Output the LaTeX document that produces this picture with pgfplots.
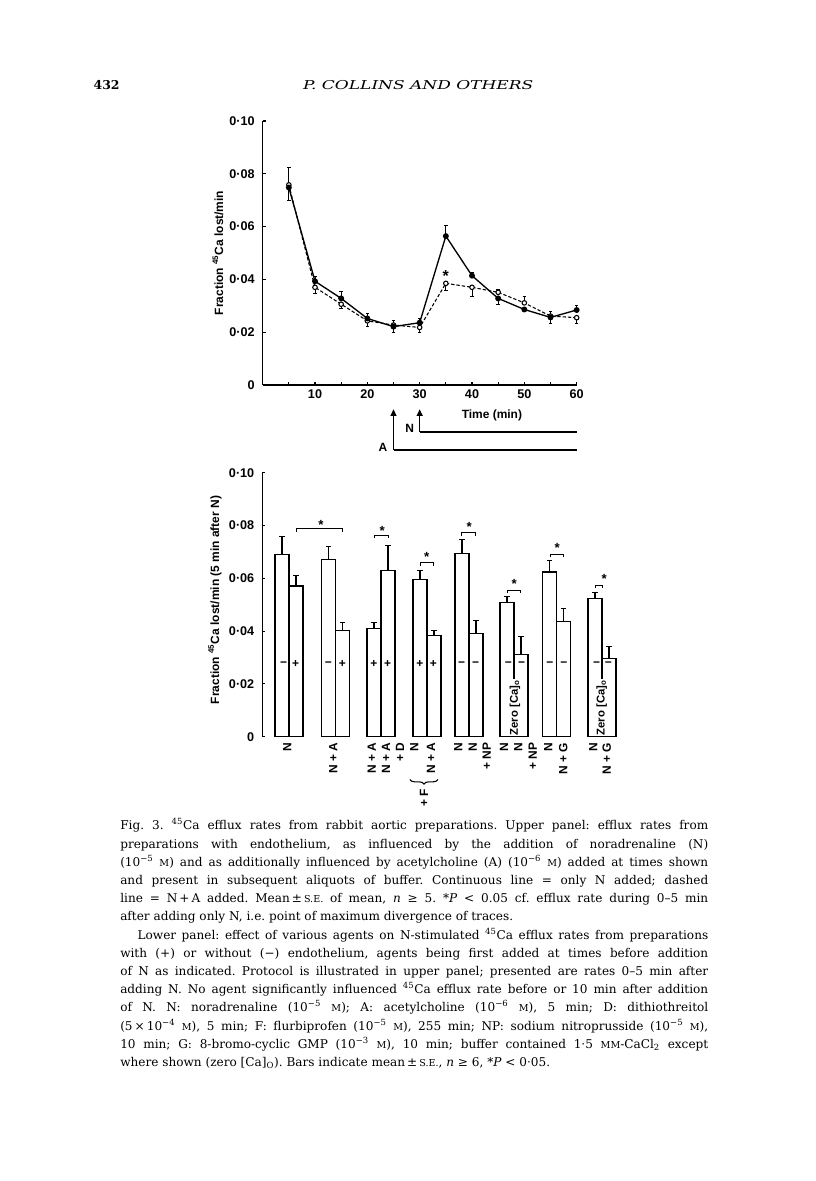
\documentclass[border=0pt]{standalone}
\usepackage{fontspec}
\setmainfont{DejaVu Serif}
\setsansfont{Liberation Sans}
\usepackage{pgfplots}
\pgfplotsset{compat=1.18}
\usetikzlibrary{arrows.meta,decorations.pathreplacing}
\newcommand{\fig}{\sffamily\bfseries\fontsize{9}{11}\selectfont}
\newcommand{\tck}{\sffamily\bfseries\fontsize{9.5}{11}\selectfont}
\newcommand{\smc}[1]{{\fontsize{7.2}{8}\selectfont #1}}
\tikzset{
  minus/.style={font=\fig, inner sep=0pt},
  star/.style={font=\sffamily\bfseries\fontsize{10}{11}\selectfont, inner sep=0pt},
  cat/.style={font=\fig, rotate=90, anchor=east, inner sep=0pt},
  sig/.style={line width=0.75bp},
  zero/.style={font=\sffamily\bfseries\fontsize{8.5}{9}\selectfont, rotate=90, fill=white, inner sep=0.6bp},
}

\begin{document}
\begin{tikzpicture}
\useasboundingbox[fill=white] (0bp,0bp) rectangle (612bp,885.75bp);

% ---- running head ----
\node[anchor=base west, inner sep=0pt] at (70bp,818.8bp) {\resizebox{19.5bp}{6.8bp}{\bfseries 432}};
\node[anchor=base west, inner sep=0pt] at (227.2bp,818.8bp) {\resizebox{172.5bp}{6.8bp}{\itshape P. COLLINS AND OTHERS}};

% ---- upper panel: efflux vs time ----
\begin{axis}[
  at={(197bp,597bp)}, anchor=origin,
  x=3.925bp, y=1980bp,
  xmin=0, xmax=60, ymin=0, ymax=0.1,
  axis lines*=left,
  axis line style={line width=1bp},
  tick align=inside, major tick length=2.2bp,
  tick style={line width=0.8bp, black},
  xtick={5,10,...,60},
  xticklabels={,10,,20,,30,,40,,50,,60},
  ytick={0,0.02,0.04,0.06,0.08,0.1},
  yticklabels={0,0·02,0·04,0·06,0·08,0·10},
  scaled y ticks=false,
  tick label style={font=\tck},
  yticklabel style={xshift=-2.5bp},
  clip=false,
]
% N + A (open circles, dashed)
\addplot[black, line width=0.8bp, dash pattern=on 2.5bp off 1.5bp,
  mark=*, mark size=1.7bp, mark options={solid, fill=white},
  error bars/.cd, y dir=both, y explicit,
  error bar style={solid, line width=0.7bp},
  error mark options={solid, rotate=90, mark size=1.3bp, line width=0.7bp}]
coordinates {
  (5,0.0758)  += (0,0)      -= (0,0.0058)
  (10,0.0370) += (0,0)      -= (0,0.0023)
  (15,0.0306) += (0,0)      -= (0,0.0018)
  (20,0.0243) += (0,0)      -= (0,0.0020)
  (25,0.0227) += (0,0.0016) -= (0,0)
  (30,0.0218) += (0,0)      -= (0,0.0020)
  (35,0.0385) += (0,0)      -= (0,0.0026)
  (40,0.0370) += (0,0)      -= (0,0.0036)
  (45,0.0351) += (0,0.0011) -= (0,0)
  (50,0.0311) += (0,0.0023) -= (0,0)
  (55,0.0261) += (0,0.0019) -= (0,0)
  (60,0.0255) += (0,0)      -= (0,0.0022)
};
% N only (filled circles, continuous)
\addplot[black, line width=1bp,
  mark=*, mark size=1.7bp,
  error bars/.cd, y dir=both, y explicit,
  error bar style={line width=0.7bp},
  error mark options={rotate=90, mark size=1.3bp, line width=0.7bp}]
coordinates {
  (5,0.0748)  += (0,0.0077) -= (0,0)
  (10,0.0393) += (0,0.0017) -= (0,0)
  (15,0.0328) += (0,0.0028) -= (0,0)
  (20,0.0252) += (0,0.0019) -= (0,0)
  (25,0.0221) += (0,0)      -= (0,0.0023)
  (30,0.0236) += (0,0.0016) -= (0,0)
  (35,0.0564) += (0,0.0039) -= (0,0)
  (40,0.0414) += (0,0.0012) -= (0,0)
  (45,0.0328) += (0,0)      -= (0,0.0022)
  (50,0.0286) += (0,0.0006) -= (0,0.0006)
  (55,0.0256) += (0,0)      -= (0,0.0023)
  (60,0.0284) += (0,0.0019) -= (0,0)
};
\node[font=\sffamily\bfseries\fontsize{12}{12}\selectfont, inner sep=0pt] at (axis cs:35,0.0413) {*};
% protocol
\draw[line width=0.9bp, -{Triangle[length=5bp,width=4.5bp]}] (axis cs:25,-0.0246) -- (axis cs:25,-0.0092);
\draw[line width=0.9bp] (axis cs:25,-0.0246) -- (axis cs:60,-0.0246);
\draw[line width=0.9bp, -{Triangle[length=5bp,width=4.5bp]}] (axis cs:30,-0.0178) -- (axis cs:30,-0.0092);
\draw[line width=0.9bp] (axis cs:30,-0.0178) -- (axis cs:60,-0.0178);
\node[font=\fig] at (axis cs:28.1,-0.0165) {N};
\node[font=\fig] at (axis cs:23,-0.0238) {A};
\node[font=\fig] at (axis cs:43.8,-0.0114) {Time (min)};
\node[font=\fig, rotate=90] at (axis cs:-8.54,0.05) {Fraction \textsuperscript{45}Ca lost/min};
\end{axis}

% ---- lower panel: bars ----
\begin{axis}[
  at={(196.7bp,333.2bp)}, anchor=origin,
  x=0.75bp, y=1980bp,
  xmin=0, xmax=360, ymin=0, ymax=0.1,
  hide x axis,
  axis y line*=left,
  axis line style={line width=1bp},
  tick align=inside, major tick length=2.2bp,
  tick style={line width=0.8bp, black},
  ytick={0,0.02,0.04,0.06,0.08,0.1},
  yticklabels={0,0·02,0·04,0·06,0·08,0·10},
  scaled y ticks=false,
  tick label style={font=\tck},
  yticklabel style={xshift=-2.5bp},
  clip=false,
]
% first bar of each pair
\addplot[ybar, bar width=14, bar shift=0pt, fill=white, draw=black, line width=0.8bp,
  error bars/.cd, y dir=plus, y explicit,
  error bar style={line width=0.8bp},
  error mark options={rotate=90, mark size=2.1bp, line width=0.8bp}]
coordinates {
  (19.7,0.0691)  +- (0,0.0066)
  (66.4,0.0670)  +- (0,0.0051)
  (111.7,0.0411) +- (0,0.0022)
  (157.7,0.0595) +- (0,0.0034)
  (199.7,0.0694) +- (0,0.0053)
  (244.7,0.0507) +- (0,0.0023)
  (287.4,0.0624) +- (0,0.0042)
  (332.7,0.0523) +- (0,0.0023)
};
% second bar of each pair
\addplot[ybar, bar width=14, bar shift=0pt, fill=white, draw=black, line width=0.8bp,
  error bars/.cd, y dir=plus, y explicit,
  error bar style={line width=0.8bp},
  error mark options={rotate=90, mark size=2.1bp, line width=0.8bp}]
coordinates {
  (33.7,0.0571)  +- (0,0.0039)
  (80.4,0.0404)  +- (0,0.0029)
  (125.7,0.0629) +- (0,0.0096)
  (171.7,0.0382) +- (0,0.0020)
  (213.7,0.0392) +- (0,0.0049)
  (258.7,0.0310) +- (0,0.0070)
  (301.4,0.0436) +- (0,0.0048)
  (346.7,0.0298) +- (0,0.0045)
};
% endothelium markers (- without, + with)
\node[minus] at (axis cs:21.4,0.0274) {−};
\node[minus] at (axis cs:33.4,0.0274) {+};
\node[minus] at (axis cs:66,0.0274) {−};
\node[minus] at (axis cs:80,0.0274) {+};
\node[minus] at (axis cs:111.7,0.0274) {+};
\node[minus] at (axis cs:125.4,0.0274) {+};
\node[minus] at (axis cs:157.7,0.0274) {+};
\node[minus] at (axis cs:171,0.0274) {+};
\node[minus] at (axis cs:199.4,0.0274) {−};
\node[minus] at (axis cs:213.4,0.0274) {−};
\node[minus] at (axis cs:246,0.0274) {−};
\node[minus] at (axis cs:259.4,0.0274) {−};
\node[minus] at (axis cs:287.7,0.0274) {−};
\node[minus] at (axis cs:301.7,0.0274) {−};
\node[minus] at (axis cs:334.4,0.0274) {−};
\node[minus] at (axis cs:346,0.0274) {−};
% zero Ca
\node[zero] at (axis cs:252.7,0.0110) {Zero [Ca]\textsubscript{o}};
\node[zero] at (axis cs:339.4,0.0110) {Zero [Ca]\textsubscript{o}};
% significance brackets
\draw[sig] (axis cs:34.4,0.0776) |- (axis cs:80,0.0788) -- (axis cs:80,0.0776);
\draw[sig] (axis cs:112.7,0.0751) |- (axis cs:126,0.0763) -- (axis cs:126,0.0751);
\draw[sig] (axis cs:158.4,0.0648) |- (axis cs:171.7,0.0660) -- (axis cs:171.7,0.0648);
\draw[sig] (axis cs:199.4,0.0760) |- (axis cs:213.4,0.0772) -- (axis cs:213.4,0.0760);
\draw[sig] (axis cs:245,0.0543) |- (axis cs:258.7,0.0555) -- (axis cs:258.7,0.0543);
\draw[sig] (axis cs:288.4,0.0679) |- (axis cs:301,0.0691) -- (axis cs:301,0.0679);
\draw[sig] (axis cs:333,0.0562) |- (axis cs:340,0.0574) -- (axis cs:340,0.0562);
\node[star] at (axis cs:58.7,0.0803) {*};
\node[star] at (axis cs:120,0.0778) {*};
\node[star] at (axis cs:164.4,0.0681) {*};
\node[star] at (axis cs:207,0.0794) {*};
\node[star] at (axis cs:252,0.0579) {*};
\node[star] at (axis cs:295,0.0716) {*};
\node[star] at (axis cs:342,0.0596) {*};
% category labels
\node[cat] at (axis cs:25,-0.0022) {N};
\node[cat] at (axis cs:71,-0.0022) {N + A};
\node[cat] at (axis cs:109.4,-0.0022) {N + A};
\node[cat] at (axis cs:123.7,-0.0022) {N + A};
\node[cat] at (axis cs:137.7,-0.0022) {+ D};
\node[cat] at (axis cs:152,-0.0022) {N};
\node[cat] at (axis cs:168.7,-0.0022) {N + A};
\node[cat] at (axis cs:196,-0.0022) {N};
\node[cat] at (axis cs:210.4,-0.0022) {N};
\node[cat] at (axis cs:224.4,-0.0022) {+ NP};
\node[cat] at (axis cs:241.7,-0.0022) {N};
\node[cat] at (axis cs:256,-0.0022) {N};
\node[cat] at (axis cs:270.4,-0.0022) {+ NP};
\node[cat] at (axis cs:286,-0.0022) {N};
\node[cat] at (axis cs:301,-0.0022) {N + G};
\node[cat] at (axis cs:331,-0.0022) {N};
\node[cat] at (axis cs:344.4,-0.0022) {N + G};
\draw[line width=0.8bp, decorate, decoration={brace, mirror, amplitude=3.5bp}]
  (axis cs:147.7,-0.0162) -- (axis cs:175.7,-0.0162);
\node[cat] at (axis cs:161.7,-0.0196) {+ F};
\node[font=\fig, rotate=90] at (axis cs:-47.3,0.0518) {Fraction \textsuperscript{45}Ca lost/min (5 min after N)};
\end{axis}

% ---- caption ----
\node[anchor=base west, inner sep=0pt] at (90bp,263.25bp) {\parbox[t]{441bp}{\fontsize{9.1}{13.7}\selectfont\frenchspacing
Fig. 3. \textsuperscript{45}Ca efflux rates from rabbit aortic preparations. Upper panel: efflux rates from\linebreak
preparations with endothelium, as influenced by the addition of noradrenaline (N)\linebreak
(10\textsuperscript{−5}~\smc{M}) and as additionally influenced by acetylcholine (A) (10\textsuperscript{−6}~\smc{M}) added at times shown\linebreak
and present in subsequent aliquots of buffer. Continuous line = only N added; dashed\linebreak
line = N\,+\,A added. Mean\,±\,\smc{S.E.} of mean, \textit{n} ≥ 5. *\textit{P} < 0.05 cf. efflux rate during 0--5 min\linebreak
after adding only N, i.e. point of maximum divergence of traces.\par
\hspace*{13bp}Lower panel: effect of various agents on N-stimulated \textsuperscript{45}Ca efflux rates from preparations\linebreak
with (+) or without (−) endothelium, agents being first added at times before addition\linebreak
of N as indicated. Protocol is illustrated in upper panel; presented are rates 0--5 min after\linebreak
adding N. No agent significantly influenced \textsuperscript{45}Ca efflux rate before or 10 min after addition\linebreak
of N. N: noradrenaline (10\textsuperscript{−5}~\smc{M}); A: acetylcholine (10\textsuperscript{−6}~\smc{M}), 5 min; D: dithiothreitol\linebreak
(5\,×\,10\textsuperscript{−4}~\smc{M}), 5 min; F: flurbiprofen (10\textsuperscript{−5}~\smc{M}), 255 min; NP: sodium nitroprusside (10\textsuperscript{−5}~\smc{M}),\linebreak
10 min; G: 8-bromo-cyclic GMP (10\textsuperscript{−3}~\smc{M}), 10 min; buffer contained 1·5 \smc{MM}-CaCl\textsubscript{2} except\linebreak
where shown (zero [Ca]\textsubscript{O}). Bars indicate mean\,±\,\smc{S.E.}, \textit{n} ≥ 6, *\textit{P} < 0·05.\par
}};
\end{tikzpicture}
\end{document}
